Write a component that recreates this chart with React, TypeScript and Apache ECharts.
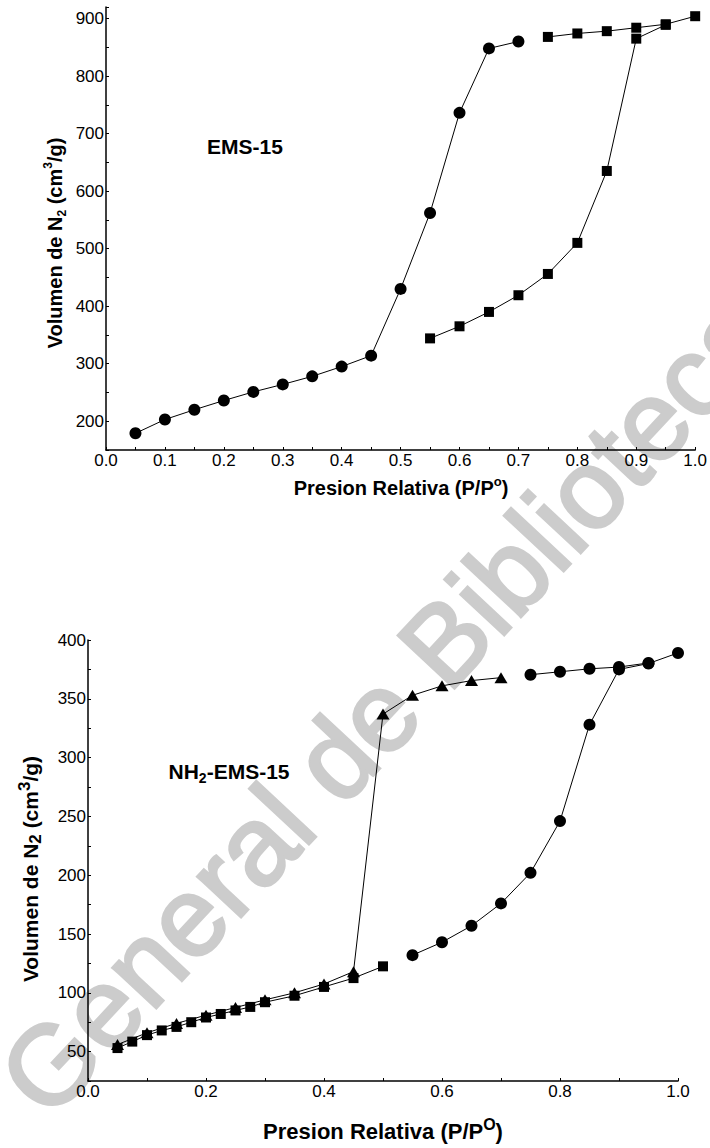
import React, { useEffect, useRef } from "react";
import * as echarts from "echarts";

// EMS-15 (top chart)
const topAdsX = [0.05, 0.1, 0.15, 0.2, 0.25, 0.3, 0.35, 0.4, 0.45, 0.5, 0.55, 0.6, 0.65, 0.7];
const topAdsY = [179, 203, 220, 236, 251, 264, 278, 295, 314, 430, 562, 736, 848, 860];
const topHighX = [0.75, 0.8, 0.85, 0.9, 0.95, 1.0];
const topHighY = [868, 874, 878, 884, 890, 904];
const topDesX = [0.95, 0.9, 0.85, 0.8, 0.75, 0.7, 0.65, 0.6, 0.55];
const topDesY = [889, 865, 635, 510, 456, 419, 390, 365, 344];

// NH2-EMS-15 (bottom chart)
const botAdsSqX = [0.05, 0.075, 0.1, 0.125, 0.15, 0.175, 0.2, 0.225, 0.25, 0.275, 0.3, 0.35, 0.4, 0.45, 0.5];
const botAdsSqY = [53, 58.5, 64, 68, 71, 75, 79, 82, 85, 88, 92, 97.5, 105, 112.5, 122.5];
const botAdsCiX = [0.55, 0.6, 0.65, 0.7, 0.75, 0.8, 0.85, 0.9, 0.95, 1.0];
const botAdsCiY = [132, 143, 157, 176, 202, 246, 328, 375, 380, 389];
const botDesCiX = [0.95, 0.9, 0.85, 0.8, 0.75];
const botDesCiY = [380.5, 377, 375.5, 373, 370.5];
const botDesTrX = [0.7, 0.65, 0.6, 0.55, 0.5, 0.45, 0.4, 0.35, 0.3, 0.25, 0.2, 0.15, 0.1, 0.05];
const botDesTrY = [368, 365.5, 361, 353, 337, 118, 107.5, 100, 94, 87.5, 81, 74, 66, 56];

const FONT = "Liberation Sans";

const zip = (xs: number[], ys: number[]) => xs.map((x, i) => [x, ys[i]]);

const lineSeries = (
  name: string,
  xs: number[],
  ys: number[],
  symbol: string,
  size: number | number[],
  idx: number
) => ({
  name,
  type: "line",
  xAxisIndex: idx,
  yAxisIndex: idx,
  data: zip(xs, ys),
  symbol,
  symbolSize: size,
  showAllSymbol: true,
  lineStyle: { color: "#000", width: 1 },
  itemStyle: { color: "#000" },
  emphasis: { disabled: true },
  z: 3,
});

const axisCommon = {
  axisLine: { show: true, onZero: false, lineStyle: { color: "#000", width: 1.5 } },
  axisTick: { show: true, inside: true, length: 3, lineStyle: { color: "#000", width: 1 } },
  splitLine: { show: false },
  axisLabel: { color: "#000", fontFamily: FONT, fontSize: 17, margin: 2 },
};

export default function App() {
  const ref = useRef<HTMLDivElement>(null);
  useEffect(() => {
    if (!ref.current) return;
    const chart = echarts.init(ref.current, null, { renderer: "svg" });
    const subSup = (sub: number, sup: number) => ({
      sub: { fontFamily: FONT, fontWeight: "bold", fontSize: sub, lineHeight: sub + 1, verticalAlign: "bottom", fill: "#000" },
      sup: { fontFamily: FONT, fontWeight: "bold", fontSize: sup, lineHeight: sup, verticalAlign: "top", fill: "#000" },
    });
    const option: any = {
      animation: false,
      backgroundColor: "#fff",
      grid: [
        { left: 106, top: 7, width: 591, height: 443 },
        { left: 88, top: 640, width: 590, height: 441 },
      ],
      xAxis: [
        {
          ...axisCommon,
          type: "value",
          gridIndex: 0,
          min: 0,
          max: 1,
          interval: 0.05,
          axisLabel: {
            ...axisCommon.axisLabel,
            formatter: (v: number) => (Math.round(v * 100) % 10 === 0 ? v.toFixed(1) : ""),
          },
        },
        {
          ...axisCommon,
          type: "value",
          gridIndex: 1,
          min: 0,
          max: 1,
          interval: 0.1,
          axisLabel: {
            ...axisCommon.axisLabel,
            formatter: (v: number) => (Math.round(v * 10) % 2 === 0 ? v.toFixed(1) : ""),
          },
        },
      ],
      yAxis: [
        {
          ...axisCommon,
          type: "value",
          gridIndex: 0,
          min: 150,
          max: 920,
          interval: 50,
          axisLabel: {
            ...axisCommon.axisLabel,
            formatter: (v: number) => (Math.round(v) % 100 === 0 ? String(Math.round(v)) : ""),
          },
        },
        {
          ...axisCommon,
          type: "value",
          gridIndex: 1,
          min: 25,
          max: 400,
          interval: 25,
          axisLabel: {
            ...axisCommon.axisLabel,
            formatter: (v: number) => (Math.round(v) % 50 === 0 ? String(Math.round(v)) : ""),
          },
        },
      ],
      graphic: [
        {
          type: "text",
          x: 386,
          y: 705,
          rotation: (47 * Math.PI) / 180,
          silent: true,
          z: 0,
          style: {
            text: "General de Biblioteca",
            font: `112px "${FONT}"`,
            fill: "#cccccc",
            stroke: "#cccccc",
            lineWidth: 3,
            align: "center",
            verticalAlign: "middle",
          },
        },
        {
          type: "text",
          x: 55,
          y: 243,
          rotation: Math.PI / 2,
          z: 10,
          style: {
            text: "Volumen de N{sub|2} (cm{sup|3}/g)",
            font: `bold 20px "${FONT}"`,
            fill: "#000",
            align: "center",
            verticalAlign: "middle",
            lineHeight: 26,
            rich: subSup(12, 12),
          },
        },
        {
          type: "text",
          x: 401,
          y: 488,
          z: 10,
          style: {
            text: "Presion Relativa (P/P{sup|o})",
            font: `bold 20px "${FONT}"`,
            fill: "#000",
            align: "center",
            verticalAlign: "middle",
            lineHeight: 26,
            rich: subSup(12, 13),
          },
        },
        {
          type: "text",
          x: 245,
          y: 146,
          z: 10,
          style: {
            text: "EMS-15",
            font: `bold 21px "${FONT}"`,
            fill: "#000",
            align: "center",
            verticalAlign: "middle",
          },
        },
        {
          type: "text",
          x: 30,
          y: 869,
          rotation: Math.PI / 2,
          z: 10,
          style: {
            text: "Volumen de N{sub|2} (cm{sup|3}/g)",
            font: `bold 21px "${FONT}"`,
            fill: "#000",
            align: "center",
            verticalAlign: "middle",
            lineHeight: 28,
            rich: subSup(17, 17),
          },
        },
        {
          type: "text",
          x: 383,
          y: 1131,
          z: 10,
          style: {
            text: "Presion Relativa (P/P{sup|O})",
            font: `bold 22px "${FONT}"`,
            fill: "#000",
            align: "center",
            verticalAlign: "middle",
            lineHeight: 30,
            rich: subSup(14, 16),
          },
        },
        {
          type: "text",
          x: 229,
          y: 771,
          z: 10,
          style: {
            text: "NH{sub|2}-EMS-15",
            font: `bold 21px "${FONT}"`,
            fill: "#000",
            align: "center",
            verticalAlign: "middle",
            lineHeight: 28,
            rich: subSup(14, 13),
          },
        },
      ],
      series: [
        lineSeries("EMS-15 adsorción", topAdsX, topAdsY, "circle", 12, 0),
        lineSeries("EMS-15 adsorción alta", topHighX, topHighY, "rect", 10, 0),
        lineSeries("EMS-15 desorción", topDesX, topDesY, "rect", 10, 0),
        lineSeries("NH2-EMS-15 adsorción", botAdsSqX, botAdsSqY, "rect", 10, 1),
        lineSeries("NH2-EMS-15 adsorción alta", botAdsCiX, botAdsCiY, "circle", 12, 1),
        lineSeries("NH2-EMS-15 desorción alta", botDesCiX, botDesCiY, "circle", 12, 1),
        lineSeries("NH2-EMS-15 desorción", botDesTrX, botDesTrY, "triangle", [13, 11], 1),
      ],
    };
    chart.setOption(option);
    return () => chart.dispose();
  }, []);
  return (
    <div
      ref={ref}
      style={{ position: "fixed", left: 0, top: 0, width: 710, height: 1148, background: "#fff" }}
    />
  );
}
